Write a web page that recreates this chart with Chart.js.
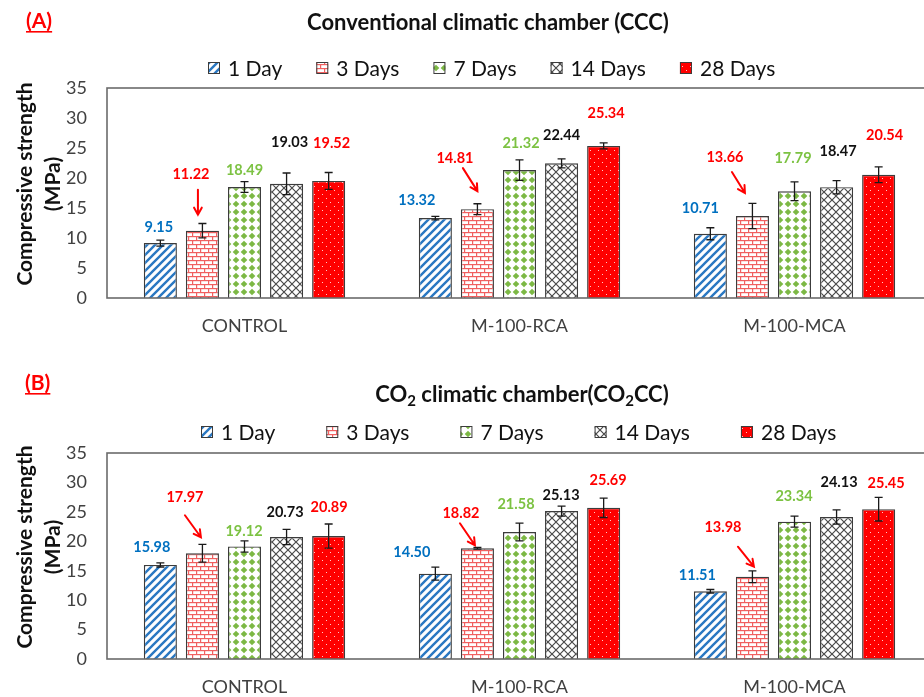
<!DOCTYPE html>
<html>
<head>
<meta charset="utf-8">
<script src="https://cdn.jsdelivr.net/npm/chart.js@4.4.0/dist/chart.umd.min.js"></script>
<style>
  html, body { margin: 0; padding: 0; background: #fff; overflow: hidden; width: 924px; height: 697px; }
  .panel { position: absolute; left: 0; }
  #panelA { top: 0; }
  #panelB { top: 350px; }
  canvas { display: block; }
</style>
</head>
<body>
<div class="panel" id="panelA"><canvas id="chartA" width="932" height="350"></canvas></div>
<div class="panel" id="panelB"><canvas id="chartB" width="932" height="347"></canvas></div>
<script>
// ---- categories and axis ----
const mixes = ['CONTROL', 'M-100-RCA', 'M-100-MCA'];
const ages = ['1 Day', '3 Days', '7 Days', '14 Days', '28 Days'];
const strengthTicks = [0, 5, 10, 15, 20, 25, 30, 35];

// ---- (A) conventional climatic chamber: mean strength (MPa) ----
const ccc1Day   = [9.15, 13.32, 10.71];
const ccc3Days  = [11.22, 14.81, 13.66];
const ccc7Days  = [18.49, 21.32, 17.79];
const ccc14Days = [19.03, 22.44, 18.47];
const ccc28Days = [19.52, 25.34, 20.54];
// standard deviation (MPa)
const cccSd1Day   = [0.5, 0.3, 1.0];
const cccSd3Days  = [1.2, 0.9, 2.1];
const cccSd7Days  = [0.9, 1.7, 1.55];
const cccSd14Days = [1.8, 0.75, 1.1];
const cccSd28Days = [1.4, 0.5, 1.3];

// ---- (B) CO2 climatic chamber: mean strength (MPa) ----
const co2cc1Day   = [15.98, 14.50, 11.51];
const co2cc3Days  = [17.97, 18.82, 13.98];
const co2cc7Days  = [19.12, 21.58, 23.34];
const co2cc14Days = [20.73, 25.13, 24.13];
const co2cc28Days = [20.89, 25.69, 25.45];
// standard deviation (MPa)
const co2ccSd1Day   = [0.35, 1.1, 0.3];
const co2ccSd3Days  = [1.5, 0.15, 1.0];
const co2ccSd7Days  = [0.95, 1.5, 0.95];
const co2ccSd14Days = [1.3, 0.85, 1.2];
const co2ccSd28Days = [2.05, 1.65, 2.0];

// ---- styling ----
Chart.defaults.font.family = 'Lato, "Open Sans", sans-serif';
const FRAME = '#6b6b6b';
const TEXT_DARK = '#404040';
const valueColors = ['#0070C0', '#FF0000', '#7CC242', '#111111', '#FF0000'];

function makeTile(size, paint) {
  const c = document.createElement('canvas');
  c.width = size; c.height = size;
  paint(c.getContext('2d'), size);
  return c;
}

// fill patterns for each curing age
const tiles = [
  // 1 day: blue upward diagonal stripes
  makeTile(8, (g) => {
    g.fillStyle = '#fff'; g.fillRect(0, 0, 8, 8);
    g.strokeStyle = '#2A78C2'; g.lineWidth = 2.4;
    g.beginPath();
    g.moveTo(-2, 2); g.lineTo(2, -2);
    g.moveTo(-2, 10); g.lineTo(10, -2);
    g.moveTo(6, 10); g.lineTo(10, 6);
    g.stroke();
  }),
  // 3 days: red brick
  makeTile(8, (g) => {
    g.fillStyle = '#fff'; g.fillRect(0, 0, 8, 8);
    g.fillStyle = '#F06060';
    g.fillRect(0, 0, 8, 1.2);
    g.fillRect(0, 4, 8, 1.2);
    g.fillRect(0, 0, 1.2, 4);
    g.fillRect(4, 4, 1.2, 4);
  }),
  // 7 days: green diamonds
  makeTile(8, (g) => {
    g.fillStyle = '#fff'; g.fillRect(0, 0, 8, 8);
    g.fillStyle = '#7CB844';
    g.beginPath();
    g.moveTo(4, 0.7); g.lineTo(7.3, 4); g.lineTo(4, 7.3); g.lineTo(0.7, 4);
    g.closePath(); g.fill();
  }),
  // 14 days: grey diagonal cross-hatch
  makeTile(8, (g) => {
    g.fillStyle = '#fff'; g.fillRect(0, 0, 8, 8);
    g.strokeStyle = '#4a4a4a'; g.lineWidth = 1.2;
    g.beginPath();
    g.moveTo(-1, -1); g.lineTo(9, 9);
    g.moveTo(9, -1); g.lineTo(-1, 9);
    g.stroke();
  }),
  // 28 days: red with sparse light dots
  makeTile(8, (g) => {
    g.fillStyle = '#FF0000'; g.fillRect(0, 0, 8, 8);
    g.fillStyle = '#ffc8c8';
    g.fillRect(2, 2, 1, 1);
    g.fillRect(6, 6, 1, 1);
  })
];

function buildDatasets(ctx, seriesList, sdList) {
  return seriesList.map((vals, i) => ({
    label: ages[i],
    data: vals,
    sd: sdList[i],
    backgroundColor: ctx.createPattern(tiles[i], 'repeat'),
    borderColor: '#3c3c3c',
    borderWidth: 1.4,
    categoryPercentage: 0.765,
    barPercentage: 0.786
  }));
}

// draws the frame, error bars, value labels, arrows, titles and legend
const decorPlugin = {
  id: 'decor',
  afterDatasetsDraw(chart, args, opts) {
    const ctx = chart.ctx;
    const ca = chart.chartArea;
    const y = chart.scales.y;

    // plot frame
    ctx.save();
    ctx.strokeStyle = FRAME;
    ctx.lineWidth = 1.6;
    ctx.strokeRect(ca.left, ca.top, ca.right - ca.left, ca.bottom - ca.top);
    ctx.restore();

    // error bars
    ctx.save();
    ctx.strokeStyle = '#1a1a1a';
    ctx.lineWidth = 1.3;
    chart.data.datasets.forEach((ds, di) => {
      const meta = chart.getDatasetMeta(di);
      meta.data.forEach((bar, gi) => {
        const v = ds.data[gi], s = ds.sd[gi];
        const yTop = y.getPixelForValue(v + s);
        const yBot = y.getPixelForValue(v - s);
        ctx.beginPath();
        ctx.moveTo(bar.x, yTop); ctx.lineTo(bar.x, yBot);
        ctx.moveTo(bar.x - 4, yTop); ctx.lineTo(bar.x + 4, yTop);
        ctx.moveTo(bar.x - 4, yBot); ctx.lineTo(bar.x + 4, yBot);
        ctx.stroke();
      });
    });
    ctx.restore();

    // value labels
    ctx.save();
    ctx.font = 'bold 14.5px Lato, sans-serif';
    ctx.textAlign = 'center';
    ctx.textBaseline = 'middle';
    chart.data.datasets.forEach((ds, di) => {
      const meta = chart.getDatasetMeta(di);
      ctx.fillStyle = valueColors[di];
      meta.data.forEach((bar, gi) => {
        const lx = bar.x + opts.labelShift[di][gi];
        const ly = bar.y - opts.labelLift[di][gi];
        ctx.fillText(ds.data[gi].toFixed(2), lx, ly);
      });
    });
    ctx.restore();

    // arrows pointing at the 3-day bars
    ctx.save();
    ctx.strokeStyle = '#FF0000';
    ctx.lineWidth = 2;
    ctx.lineCap = 'round';
    opts.arrows.forEach((a) => {
      const bar = chart.getDatasetMeta(a.series).data[a.group];
      const x0 = bar.x + a.from[0], y0 = bar.y - a.from[1];
      const x1 = bar.x + a.to[0], y1 = bar.y - a.to[1];
      const ang = Math.atan2(y1 - y0, x1 - x0);
      const h = 8, spread = 0.5;
      ctx.beginPath();
      ctx.moveTo(x0, y0); ctx.lineTo(x1, y1);
      ctx.moveTo(x1 - h * Math.cos(ang - spread), y1 - h * Math.sin(ang - spread));
      ctx.lineTo(x1, y1);
      ctx.lineTo(x1 - h * Math.cos(ang + spread), y1 - h * Math.sin(ang + spread));
      ctx.stroke();
    });
    ctx.restore();
  },
  afterDraw(chart, args, opts) {
    const ctx = chart.ctx;
    const ca = chart.chartArea;

    // panel tag, underlined
    ctx.save();
    ctx.font = 'bold 21px Lato, sans-serif';
    ctx.fillStyle = '#FF0000';
    ctx.textAlign = 'left';
    ctx.textBaseline = 'middle';
    ctx.fillText(opts.tag, opts.tagPos[0], opts.tagPos[1]);
    const tw = ctx.measureText(opts.tag).width;
    ctx.fillRect(opts.tagPos[0], opts.tagPos[1] + 10, tw, 1.6);
    ctx.restore();

    // chart title, with optional subscript runs
    ctx.save();
    const big = 'bold 22px Lato, sans-serif';
    const small = 'bold 15px Lato, sans-serif';
    let total = 0;
    opts.title.forEach((run) => {
      ctx.font = run.sub ? small : big;
      total += ctx.measureText(run.t).width;
    });
    let tx = opts.titlePos[0] - total / 2;
    ctx.fillStyle = '#111';
    ctx.textAlign = 'left';
    ctx.textBaseline = 'middle';
    opts.title.forEach((run) => {
      ctx.font = run.sub ? small : big;
      ctx.fillText(run.t, tx, opts.titlePos[1] + (run.sub ? 6 : 0));
      tx += ctx.measureText(run.t).width;
    });
    ctx.restore();

    // legend
    ctx.save();
    ctx.font = '21px Lato, sans-serif';
    ctx.textAlign = 'left';
    ctx.textBaseline = 'middle';
    let lx = opts.legendPos[0];
    const ly = opts.legendPos[1];
    chart.data.datasets.forEach((ds) => {
      ctx.fillStyle = ds.backgroundColor;
      ctx.fillRect(lx, ly - 6, 12, 12);
      ctx.strokeStyle = '#3c3c3c';
      ctx.lineWidth = 1;
      ctx.strokeRect(lx + 0.5, ly - 5.5, 11, 11);
      ctx.fillStyle = '#111';
      ctx.fillText(ds.label, lx + 20, ly + 1);
      lx += 20 + ctx.measureText(ds.label).width + opts.legendGap;
    });
    ctx.restore();

    // rotated y-axis title, two centred lines
    ctx.save();
    ctx.font = 'bold 21px Lato, sans-serif';
    ctx.fillStyle = '#111';
    ctx.textAlign = 'center';
    ctx.textBaseline = 'middle';
    const cy = (ca.top + ca.bottom) / 2 - 9;
    [['Compressive strength', 25], ['(MPa)', 53]].forEach(([txt, x]) => {
      ctx.save();
      ctx.translate(x, cy);
      ctx.rotate(-Math.PI / 2);
      ctx.fillText(txt, 0, 0);
      ctx.restore();
    });
    ctx.restore();
  }
};

function makeChart(id, seriesList, sdList, layoutTop, axisHeight, decor) {
  const canvas = document.getElementById(id);
  const ctx = canvas.getContext('2d');
  return new Chart(ctx, {
    type: 'bar',
    data: { labels: mixes, datasets: buildDatasets(ctx, seriesList, sdList) },
    plugins: [decorPlugin],
    options: {
      responsive: false,
      animation: false,
      devicePixelRatio: 1,
      layout: { padding: { top: layoutTop, left: 0, right: 0, bottom: 0 } },
      plugins: {
        legend: { display: false },
        title: { display: false },
        tooltip: { enabled: false },
        decor: decor
      },
      scales: {
        x: {
          grid: { display: false, drawTicks: false },
          border: { display: false },
          ticks: { color: TEXT_DARK, font: { size: 18 }, padding: 17 },
          afterFit: (s) => { s.height = axisHeight; }
        },
        y: {
          min: 0, max: 35,
          grid: { display: false, drawTicks: false },
          border: { display: false },
          afterBuildTicks: (s) => { s.ticks = strengthTicks.map((v) => ({ value: v })); },
          ticks: { color: TEXT_DARK, font: { size: 18 }, padding: 20 },
          afterFit: (s) => { s.width = 107; }
        }
      }
    }
  });
}

// (A) Conventional climatic chamber
makeChart('chartA',
  [ccc1Day, ccc3Days, ccc7Days, ccc14Days, ccc28Days],
  [cccSd1Day, cccSd3Days, cccSd7Days, cccSd14Days, cccSd28Days],
  88, 52,
  {
    tag: '(A)', tagPos: [26, 21],
    title: [{ t: 'Conventional climatic chamber (CCC)' }], titlePos: [488, 23],
    legendPos: [208, 68], legendGap: 34,
    // label offsets above each bar top, per age then per mix
    labelLift:  [[16, 18, 25], [56, 51, 59], [17, 27, 33], [41, 28, 36], [38, 33, 39]],
    labelShift: [[-1.5, -18.5, -10], [-11.5, -22.5, -27.5], [0, 1.5, -1.5], [3, 0, 1.5], [3, 2.5, 6]],
    arrows: [
      { series: 1, group: 0, from: [-4.5, 41], to: [-4.5, 16] },
      { series: 1, group: 1, from: [-14.5, 41], to: [0, 18] },
      { series: 1, group: 2, from: [-20.5, 44], to: [-7.5, 23] }
    ]
  });

// (B) CO2 climatic chamber
makeChart('chartB',
  [co2cc1Day, co2cc3Days, co2cc7Days, co2cc14Days, co2cc28Days],
  [co2ccSd1Day, co2ccSd3Days, co2ccSd7Days, co2ccSd14Days, co2ccSd28Days],
  103, 38,
  {
    tag: '(B)', tagPos: [25, 33],
    title: [
      { t: 'CO' }, { t: '2', sub: true }, { t: ' climatic chamber(CO' }, { t: '2', sub: true }, { t: 'CC)' }
    ],
    titlePos: [522, 45],
    legendPos: [201, 82], legendGap: 51,
    labelLift:  [[18, 21, 16], [56, 35, 49], [15.5, 28, 25], [25, 16, 35], [29, 27, 26]],
    labelShift: [[-8.5, -23.5, -13], [-17.5, -16.5, -29.5], [-0.5, -3.5, -0.5], [-1.5, -0.5, 2.5], [0.5, 4.5, 7.5]],
    arrows: [
      { series: 1, group: 0, from: [-17.5, 38], to: [-1.5, 16] },
      { series: 1, group: 1, from: [-17.5, 25], to: [-2.5, 3] },
      { series: 1, group: 2, from: [-14.5, 30], to: [1.5, 10] }
    ]
  });
</script>
</body>
</html>
